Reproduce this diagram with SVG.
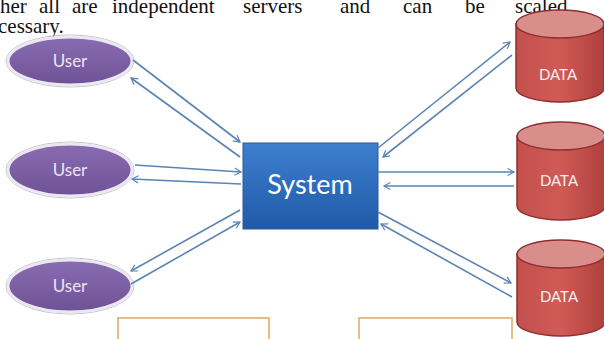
<svg xmlns="http://www.w3.org/2000/svg" width="604" height="339" viewBox="0 0 604 339">
<style>
.para{font-family:"Liberation Serif","Times New Roman",serif;font-size:21px;fill:#111}
.user-shape{fill:url(#purple);stroke:#ece8f2;stroke-width:3}
.user-outline{fill:none;stroke:#b4aec0;stroke-width:0.8}
.user-label{font-family:Lato,"Open Sans",sans-serif;font-size:17px;fill:#ece4f4;text-anchor:middle}
.sys-label{font-family:Lato,"Open Sans",sans-serif;font-size:27px;fill:#ffffff;text-anchor:middle}
.cyl-body{fill:url(#red);stroke:#8e2f2d;stroke-width:1.5}
.cyl-top{fill:#d98e8c;stroke:#8e2f2d;stroke-width:1.5}
.data-label{font-family:Lato,"Open Sans",sans-serif;font-size:15px;fill:#fbeeee;text-anchor:middle}
.conn line{stroke:#5a84b4;stroke-width:1.6;marker-end:url(#head)}
.frame{fill:#ffffff;stroke:#e2b77a;stroke-width:1.8}
</style>
<defs>
<linearGradient id="purple" x1="0" y1="0" x2="0" y2="1">
<stop offset="0" stop-color="#8a6cb2"/>
<stop offset="1" stop-color="#6f5196"/>
</linearGradient>
<linearGradient id="blue" x1="0" y1="0" x2="0" y2="1">
<stop offset="0" stop-color="#3e7fcf"/>
<stop offset="1" stop-color="#1f5aa8"/>
</linearGradient>
<linearGradient id="red" x1="0" y1="0" x2="1" y2="0">
<stop offset="0" stop-color="#c4504d"/>
<stop offset="0.5" stop-color="#cf5a56"/>
<stop offset="1" stop-color="#b0403d"/>
</linearGradient>
<marker id="head" viewBox="0 0 10 10" refX="9" refY="5" markerWidth="8" markerHeight="8" markerUnits="userSpaceOnUse" orient="auto" overflow="visible">
<path d="M1,0.5 L9,5 L1,9.5" fill="none" stroke="#5a84b4" stroke-width="1.5"/>
</marker>
</defs>
<rect width="604" height="339" fill="#ffffff"/>

<g id="paragraph">
<text class="para" x="0" y="13">her</text>
<text class="para" x="39" y="13">all</text>
<text class="para" x="72" y="13">are</text>
<text class="para" x="112" y="13">independent</text>
<text class="para" x="243" y="13">servers</text>
<text class="para" x="340" y="13">and</text>
<text class="para" x="403" y="13">can</text>
<text class="para" x="465" y="13">be</text>
<text class="para" x="515" y="13">scaled</text>
<text class="para" x="-2" y="33">cessary.</text>
</g>

<g id="frame-left"><rect class="frame" x="118" y="318" width="151" height="30"/></g>
<g id="frame-right"><rect class="frame" x="359" y="318" width="153" height="30"/></g>

<g id="user1">
<ellipse class="user-outline" cx="70" cy="61" rx="64" ry="26"/>
<ellipse class="user-shape" cx="70" cy="61" rx="62" ry="24"/>
<text class="user-label" x="70" y="67">User</text>
</g>
<g id="user2">
<ellipse class="user-outline" cx="70" cy="170" rx="64" ry="28"/>
<ellipse class="user-shape" cx="70" cy="170" rx="62" ry="26"/>
<text class="user-label" x="70" y="176">User</text>
</g>
<g id="user3">
<ellipse class="user-outline" cx="70" cy="286" rx="64" ry="28"/>
<ellipse class="user-shape" cx="70" cy="286" rx="62" ry="26"/>
<text class="user-label" x="70" y="292">User</text>
</g>

<g id="system">
<rect x="243" y="143" width="135" height="86" fill="url(#blue)" stroke="#2a5a9a" stroke-width="1"/>
<text class="sys-label" x="310" y="194">System</text>
</g>

<g id="data1">
<path class="cyl-body" d="M516,24 V88 A44,14 0 0 0 604,88 V24 Z"/>
<ellipse class="cyl-top" cx="560" cy="24" rx="44" ry="14"/>
<text class="data-label" x="558" y="80">DATA</text>
</g>
<g id="data2">
<path class="cyl-body" d="M517,136 V206 A44,14 0 0 0 605,206 V136 Z"/>
<ellipse class="cyl-top" cx="561" cy="136" rx="44" ry="14"/>
<text class="data-label" x="559" y="186">DATA</text>
</g>
<g id="data3">
<path class="cyl-body" d="M517,254 V322 A44,14 0 0 0 605,322 V254 Z"/>
<ellipse class="cyl-top" cx="561" cy="254" rx="44" ry="14"/>
<text class="data-label" x="559" y="302">DATA</text>
</g>

<g id="connectors" class="conn">
<line x1="133" y1="60" x2="240" y2="142"/>
<line x1="240" y1="157" x2="131" y2="78"/>
<line x1="135" y1="165" x2="241" y2="172"/>
<line x1="241" y1="184" x2="132" y2="179"/>
<line x1="240" y1="210" x2="131" y2="271"/>
<line x1="131" y1="284" x2="240" y2="222"/>
<line x1="378" y1="148" x2="510" y2="42"/>
<line x1="512" y1="55" x2="383" y2="157"/>
<line x1="378" y1="172" x2="514" y2="172"/>
<line x1="514" y1="186" x2="384" y2="186"/>
<line x1="378" y1="212" x2="511" y2="283"/>
<line x1="512" y1="297" x2="381" y2="224"/>
</g>
</svg>
